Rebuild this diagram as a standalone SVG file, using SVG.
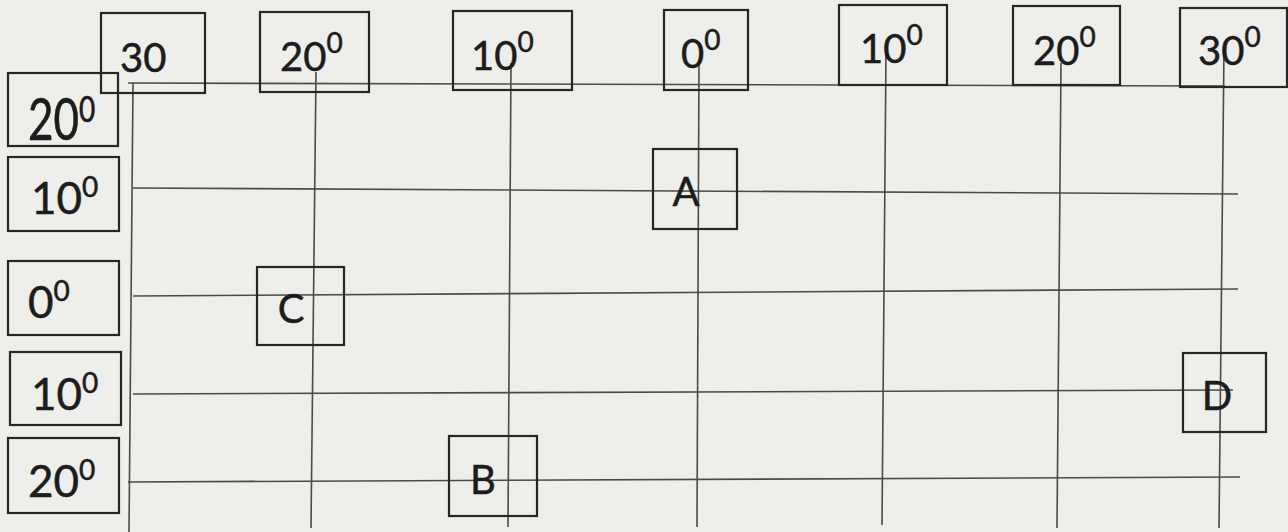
<svg xmlns="http://www.w3.org/2000/svg" width="1288" height="532" viewBox="0 0 1288 532">
<style>
.bg{fill:#eeeeea}
.box{fill:none;stroke:#262626;stroke-width:2.2}
.grid line{stroke:#4a4a4a;stroke-width:1.6;fill:none}
.t{font-family:Lato,"Liberation Sans",sans-serif;fill:#1c1c1c;stroke:#1c1c1c;stroke-width:0.5}
.top{font-size:40px}
.left{font-size:44px}
.pt{font-size:40px;text-anchor:middle}
.sup{font-size:28px}
</style>
<rect class="bg" x="0" y="0" width="1288" height="532"/>
<g id="connectors" class="grid">
<line x1="128" y1="83" x2="1225" y2="86"/>
<line x1="133" y1="188" x2="1238" y2="194"/>
<line x1="133" y1="296" x2="1238" y2="289"/>
<line x1="133" y1="394" x2="1233" y2="390"/>
<line x1="128" y1="482" x2="1240" y2="477"/>
<line x1="133" y1="83" x2="129" y2="532"/>
<line x1="316" y1="72" x2="311" y2="528"/>
<line x1="511" y1="63" x2="508" y2="527"/>
<line x1="699" y1="60" x2="697" y2="527"/>
<line x1="886" y1="50" x2="882" y2="525"/>
<line x1="1061" y1="63" x2="1057" y2="528"/>
<line x1="1224" y1="47" x2="1219" y2="528"/>
</g>
<g id="top-30">
<rect class="box" x="101" y="13" width="104" height="80"/>
<text class="t top" x="120" y="72">30</text>
</g>
<g id="top-20w">
<rect class="box" x="260" y="12" width="109" height="80"/>
<text class="t top" x="280" y="71">20<tspan class="sup" dy="-18">0</tspan></text>
</g>
<g id="top-10w">
<rect class="box" x="453" y="11" width="119" height="79"/>
<text class="t top" x="471" y="70">10<tspan class="sup" dy="-18">0</tspan></text>
</g>
<g id="top-0">
<rect class="box" x="664" y="10" width="84" height="80"/>
<text class="t top" x="681" y="68">0<tspan class="sup" dy="-18">0</tspan></text>
</g>
<g id="top-10e">
<rect class="box" x="839" y="5" width="108" height="80"/>
<text class="t top" x="860" y="63">10<tspan class="sup" dy="-18">0</tspan></text>
</g>
<g id="top-20e">
<rect class="box" x="1013" y="6" width="107" height="79"/>
<text class="t top" x="1033" y="65">20<tspan class="sup" dy="-18">0</tspan></text>
</g>
<g id="top-30e">
<rect class="box" x="1180" y="8" width="107" height="79"/>
<text class="t top" x="1198" y="65">30<tspan class="sup" dy="-18">0</tspan></text>
</g>
<g id="left-20n">
<rect class="box" x="8" y="73" width="110" height="73"/>
<text class="t left" transform="translate(28,140) scale(1,1.3)">20<tspan class="sup" dy="-14">0</tspan></text>
</g>
<g id="left-10n">
<rect class="box" x="8" y="157" width="111" height="74"/>
<text class="t left" x="31" y="214">10<tspan class="sup" dy="-17">0</tspan></text>
</g>
<g id="left-0">
<rect class="box" x="8" y="261" width="111" height="74"/>
<text class="t left" x="28" y="318">0<tspan class="sup" dy="-17">0</tspan></text>
</g>
<g id="left-10s">
<rect class="box" x="10" y="352" width="111" height="73"/>
<text class="t left" x="31" y="410">10<tspan class="sup" dy="-17">0</tspan></text>
</g>
<g id="left-20s">
<rect class="box" x="8" y="438" width="111" height="75"/>
<text class="t left" x="28" y="497">20<tspan class="sup" dy="-17">0</tspan></text>
</g>
<g id="point-A">
<rect class="box" x="653" y="149" width="84" height="80"/>
<text class="t pt" x="686" y="206">A</text>
</g>
<g id="point-C">
<rect class="box" x="257" y="267" width="87" height="78"/>
<text class="t pt" x="291" y="323">C</text>
</g>
<g id="point-B">
<rect class="box" x="449" y="436" width="88" height="80"/>
<text class="t pt" x="483" y="494">B</text>
</g>
<g id="point-D">
<rect class="box" x="1183" y="353" width="83" height="79"/>
<text class="t pt" x="1217" y="410">D</text>
</g>
</svg>
